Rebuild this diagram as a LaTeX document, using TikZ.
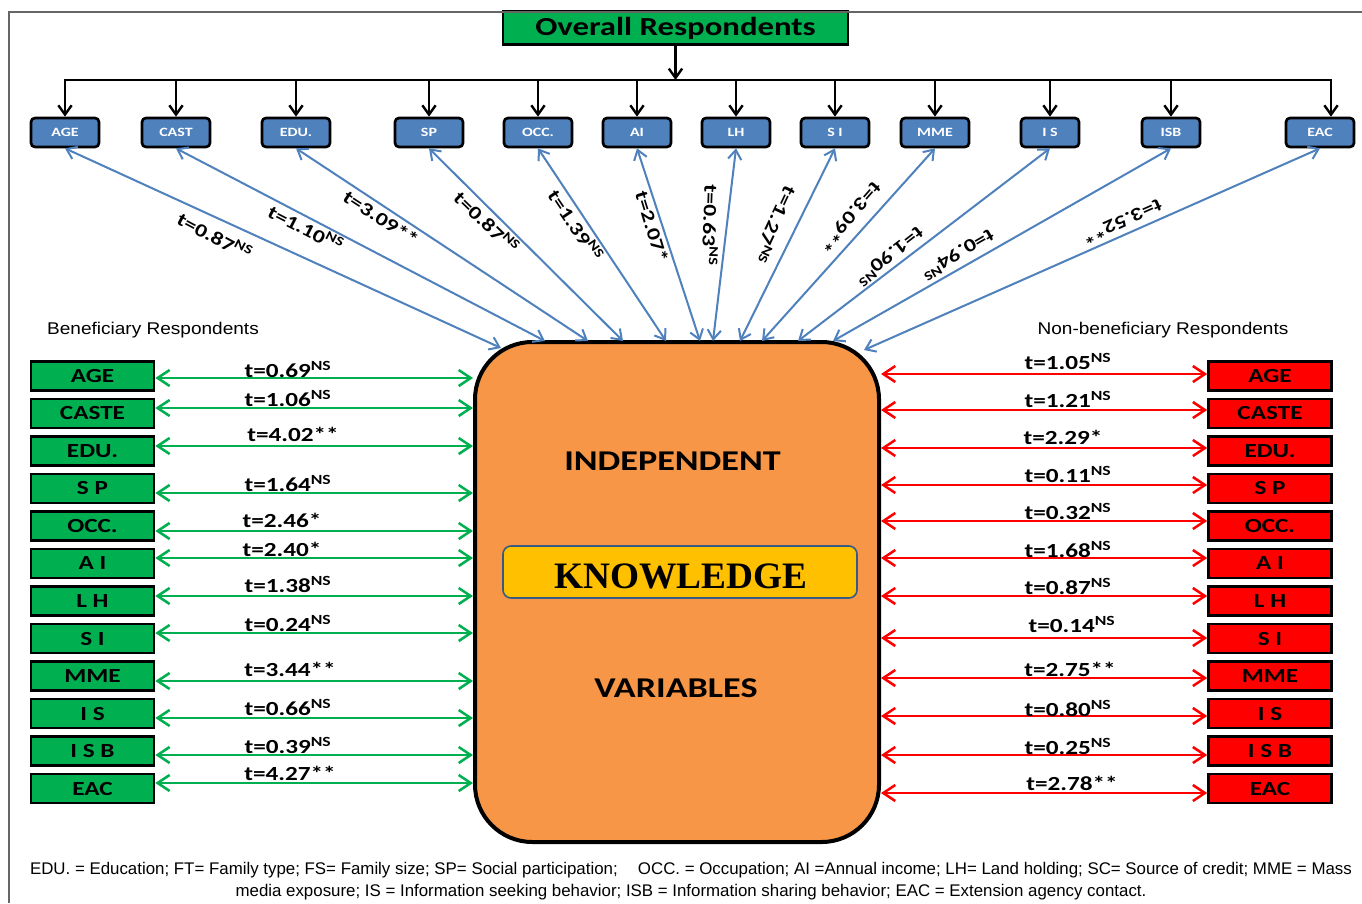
\documentclass[tikz,border=0pt]{standalone}
\usepackage{fontspec}
\newfontfamily\cb{Carlito}[FakeStretch=1.26]
\newfontfamily\arw{Liberation Sans}[FakeStretch=1.12]
\newfontfamily\ar{Liberation Sans}
\newfontfamily\kf{Liberation Serif}
\usetikzlibrary{arrows.meta,calc}
\definecolor{bgreen}{RGB}{0,176,80}
\definecolor{bblue}{RGB}{79,129,189}
\definecolor{borange}{RGB}{247,150,70}
\definecolor{byellow}{RGB}{255,192,0}
\definecolor{bred}{RGB}{255,0,0}
\newcommand{\ns}{\textsuperscript{NS}}
\tikzset{
  topbox/.style={draw=black, line width=2pt, fill=bblue, rounded corners=3pt,
    minimum height=29*0.75pt, inner sep=0pt, text=white,
    font=\cb\bfseries\fontsize{9.5}{11}\selectfont},
  gbox/.style={draw=black, line width=2pt, fill=bgreen, minimum width=123*0.75pt,
    minimum height=29*0.75pt, inner sep=0pt, font=\cb\bfseries\fontsize{15}{18}\selectfont},
  rbox/.style={gbox, fill=bred},
  tlab/.style={font=\cb\bfseries\fontsize{15}{18}\selectfont, inner sep=0pt},
  rlab/.style={font=\cb\bfseries\fontsize{14}{16}\selectfont, inner sep=0pt},
  garr/.style={draw=bgreen, line width=1.9pt,
    {Straight Barb[length=9pt,width=12pt]}-{Straight Barb[length=9pt,width=12pt]}},
  rarr/.style={garr, draw=bred},
  barr/.style={draw=bblue, line width=1.5pt,
    {Straight Barb[length=7pt,width=10pt]}-{Straight Barb[length=7pt,width=10pt]}},
  karr/.style={draw=black, line width=1.8pt, -{Straight Barb[length=7pt,width=10pt]}},
  kline/.style={draw=black, line width=1.8pt, line cap=rect},
  bigtxt/.style={font=\cb\bfseries\fontsize{21.5}{24}\selectfont, inner sep=0pt},
  sidetitle/.style={font=\arw\fontsize{12.75}{14}\selectfont, text=black, inner sep=0pt},
  foot/.style={font=\ar\fontsize{12.65}{14}\selectfont, inner sep=0pt},
}
\begin{document}
\begin{tikzpicture}[x=0.75pt,y=-0.75pt]
\useasboundingbox[fill=white] (0,0) rectangle (1362,903);
% frame
\draw[gray!80!black, line width=0.8pt] (9,903) -- (9,12) -- (1362,12);

% overall box
\node[draw=black, line width=2pt, fill=bgreen, minimum width=345*0.75pt,
  minimum height=33*0.75pt, inner sep=0pt,
  font=\cb\bfseries\fontsize{19.5}{22}\selectfont] (ov) at (675.5,28) {Overall Respondents};
\draw[gray!80!black, line width=0.8pt] (400,12) -- (900,12);

% top boxes
\foreach \n/\t/\x/\w in {AGE/AGE/65/68, CAST/CAST/176/68, EDU/EDU./296/68, SP/SP/429/68,
  OCC/OCC./538/68, AI/AI/637/68, LH/LH/736/68, SI/S I/835/68, MME/MME/935/68,
  IS/I S/1050/58, ISB/ISB/1171/58, EAC/EAC/1320/68}
  \node[topbox, minimum width=\w*0.75pt] (t\n) at (\x,132.5) {\t};

% bus
\coordinate (busL) at (65,80);
\coordinate (busR) at (1331,80);
\draw[kline] (busL) -- (busR);
\draw[karr] (ov.south) -- (ov.south |- busL);
\foreach \n in {AGE,CAST,EDU,SP,OCC,AI,LH,SI,MME,IS,ISB}
  \draw[karr] (t\n.north |- busL) -- (t\n.north);
\draw[karr] (busR) -- (busR |- tEAC.north);

% central box
\node[draw=black, line width=3pt, fill=borange, rounded corners=43pt,
  minimum width=404*0.75pt, minimum height=500*0.75pt] (ob) at (677,592) {};
\node[bigtxt] (ind) at (672.5,461) {INDEPENDENT};
\node[bigtxt] (var) at (676,688) {VARIABLES};
\node[draw=bblue!70!black, line width=1.2pt, fill=byellow, rounded corners=6pt,
  minimum width=354*0.75pt, minimum height=52*0.75pt] (kb) at (680,572) {};
\node[font=\kf\bfseries\fontsize{28}{30}\selectfont, inner sep=0pt] (kt) at (681,576) {KNOWLEDGE};

% blue arrow ends on central box
\foreach \i/\x/\y in {1/501/348, 2/545/341, 3/588/341, 4/623/341, 5/666/341, 6/700/341,
  7/713/341, 8/740/341, 9/762/341, 10/798/341, 11/833/341, 12/864/350}
  \coordinate (e\i) at (\x,\y);
\draw[barr] (tAGE.south) -- (e1);
\draw[barr] (tCAST.south) -- (e2);
\draw[barr] (tEDU.south) -- (e3);
\draw[barr] (tSP.south) -- (e4);
\draw[barr] (tOCC.south) -- (e5);
\draw[barr] (tAI.south) -- (e6);
\draw[barr] (tLH.south) -- (e7);
\draw[barr] (tSI.south) -- (e8);
\draw[barr] (tMME.south) -- (e9);
\draw[barr] (tIS.south) -- (e10);
\draw[barr] (tISB.south) -- (e11);
\draw[barr] (tEAC.south) -- (e12);

% rotated labels
\foreach \x/\y/\a/\t in {215/236/-28/{t=0.87\ns}, 306/228/-27/{t=1.10\ns}, 381/218/-33/{t=3.09**},
  487/222/-44/{t=0.87\ns}, 576/225/-56/{t=1.39\ns}, 652/227/-73/{t=2.07*},
  711/225/-92/{t=0.63\ns}, 775/225/-115/{t=1.27\ns}, 850/217/-131/{t=3.09**},
  890/257/-142/{t=1.90\ns}, 958/255/-150/{t=0.94\ns}, 1122/222/-156/{t=3.52**}}
  \node[rlab, rotate=\a] at (\x,\y) {\t};

% side titles
\node[sidetitle] (bt) at (153,330) {Beneficiary Respondents};
\node[sidetitle] (nt) at (1163,330) {Non-beneficiary Respondents};

% left side
\foreach \n/\t/\yb/\dy/\lx/\ly/\lab in {
  AGE/AGE/376/2/288/369/{t=0.69\ns},
  CASTE/CASTE/413.5/-5.5/288/398/{t=1.06\ns},
  EDU/EDU./451/-5/293/434/{t=4.02**},
  SP/S P/488.5/4.5/288/483/{t=1.64\ns},
  OCC/OCC./526/5/282/520/{t=2.46*},
  AI/A I/563.5/-5.5/282/549/{t=2.40*},
  LH/L H/601/-5/288/584/{t=1.38\ns},
  SI/S I/638.5/-5.5/288/623/{t=0.24\ns},
  MME/MME/676/5/290/669/{t=3.44**},
  IS/I S/713.5/4.5/288/707/{t=0.66\ns},
  ISB/I S B/751/4/288/745/{t=0.39\ns},
  EAC/EAC/788.5/-5.5/290/773/{t=4.27**}}
{
  \node[gbox] (g\n) at (92.5,\yb) {\t};
  \path ($(g\n.east)+(0,\dy)$) coordinate (ga\n);
  \draw[garr] (ga\n) -- (ga\n -| ob.west);
  \node[tlab] at (\lx,\ly) {\lab};
}

% right side
\foreach \n/\t/\yb/\dy/\lx/\ly/\lab in {
  AGE/AGE/376/-2/1068/361/{t=1.05\ns},
  CASTE/CASTE/413.5/-3.5/1068/399/{t=1.21\ns},
  EDU/EDU./451/-3/1063/437/{t=2.29*},
  SP/S P/488.5/-3.5/1068/474/{t=0.11\ns},
  OCC/OCC./526/-5/1068/511/{t=0.32\ns},
  AI/A I/563.5/-5.5/1068/549/{t=1.68\ns},
  LH/L H/601/-5/1068/586/{t=0.87\ns},
  SI/S I/638.5/-0.5/1072/624/{t=0.14\ns},
  MME/MME/676/2/1070/669/{t=2.75**},
  IS/I S/713.5/2.5/1068/708/{t=0.80\ns},
  ISB/I S B/751/4/1068/746/{t=0.25\ns},
  EAC/EAC/788.5/4.5/1072/783/{t=2.78**}}
{
  \node[rbox] (r\n) at (1270,\yb) {\t};
  \path ($(r\n.west)+(0,\dy)$) coordinate (ra\n);
  \draw[rarr] (ra\n) -- (ra\n -| ob.east);
  \node[tlab] at (\lx,\ly) {\lab};
}

% footnote
\node[foot] (fn1) at (691,870)
  {EDU. = Education; FT= Family type; FS= Family size; SP= Social participation;\hspace{1.2em}OCC. = Occupation; AI =Annual income; LH= Land holding; SC= Source of credit; MME = Mass};
\node[foot] (fn2) at (691,892)
  {media exposure; IS = Information seeking behavior; ISB = Information sharing behavior; EAC = Extension agency contact.};
\end{tikzpicture}
\end{document}
